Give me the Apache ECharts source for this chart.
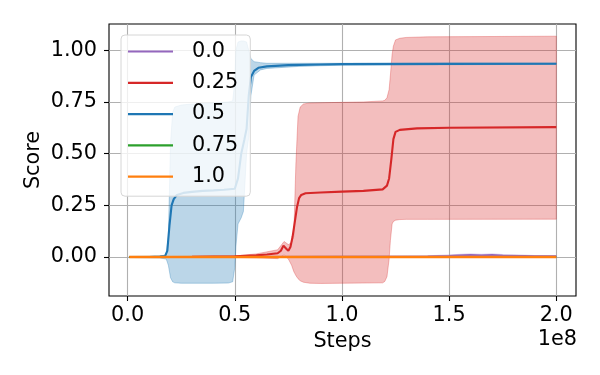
<!DOCTYPE html>
<html>
<head>
<meta charset="utf-8">
<script src="https://cdn.jsdelivr.net/npm/echarts@6/dist/echarts.min.js"></script>
<style>html,body{margin:0;padding:0;background:#fff}#c{width:600px;height:375px}</style>
</head>
<body>
<div id="c"></div>
<script>
// ---- data (x in units of 1e8 steps) ----
const seriesNames = ['0.0', '0.25', '0.5', '0.75', '1.0'];
const xTicks = [0.0, 0.5, 1.0, 1.5, 2.0];
const yTicks = [0.0, 0.25, 0.5, 0.75, 1.0];

// 0.0 (purple)
const x00 = [0.0075, 0.5, 1.0, 1.4, 1.5, 1.55, 1.6, 1.65, 1.7, 1.75, 1.8, 1.85, 1.9, 2.0];
const y00 = [0, 0, 0.001, 0.002, 0.004, 0.007, 0.009, 0.007, 0.009, 0.006, 0.005, 0.004, 0.003, 0.003];
const lo00 = [-0.002, -0.002, -0.002, -0.002, -0.002, 0.0, 0.002, 0.0, 0.002, 0.0, 0.0, -0.001, -0.002, -0.002];
const hi00 = [0.002, 0.002, 0.004, 0.006, 0.01, 0.013, 0.015, 0.013, 0.015, 0.012, 0.011, 0.009, 0.007, 0.006];

// 0.25 (red)
const x025 = [0.0075, 0.3, 0.5, 0.6, 0.65, 0.7, 0.715, 0.727, 0.74, 0.75, 0.76, 0.77, 0.78, 0.79, 0.8, 0.81, 0.83, 0.9, 1.0, 1.1, 1.19, 1.21, 1.22, 1.23, 1.24, 1.25, 1.27, 1.35, 1.5, 2.0];
const y025 = [0, 0.001, 0.003, 0.008, 0.012, 0.018, 0.03, 0.055, 0.04, 0.03, 0.05, 0.1, 0.17, 0.24, 0.285, 0.3, 0.308, 0.312, 0.316, 0.32, 0.327, 0.345, 0.38, 0.47, 0.57, 0.605, 0.615, 0.622, 0.625, 0.628];
const bx025 = [0.0075, 0.5, 0.6, 0.7, 0.73, 0.75, 0.765, 0.775, 0.785, 0.795, 0.805, 0.82, 0.85, 0.9, 1.0, 1.1, 1.19, 1.2, 1.21, 1.22, 1.226, 1.234, 1.24, 1.25, 1.27, 1.3, 1.4, 2.0];
const hi025 = [0.001, 0.005, 0.015, 0.035, 0.075, 0.06, 0.07, 0.1, 0.45, 0.68, 0.725, 0.74, 0.745, 0.746, 0.748, 0.75, 0.755, 0.758, 0.77, 0.81, 0.88, 0.98, 1.02, 1.05, 1.058, 1.062, 1.065, 1.068];
const lo025 = [-0.001, -0.002, -0.004, -0.008, 0.01, -0.01, -0.04, -0.07, -0.09, -0.105, -0.115, -0.122, -0.127, -0.128, -0.127, -0.126, -0.125, -0.118, -0.095, -0.01, 0.08, 0.16, 0.172, 0.178, 0.181, 0.182, 0.182, 0.183];

// 0.5 (blue)
const x05 = [0.0075, 0.05, 0.1, 0.15, 0.175, 0.185, 0.195, 0.205, 0.215, 0.23, 0.26, 0.3, 0.35, 0.4, 0.45, 0.5, 0.515, 0.53, 0.545, 0.555, 0.565, 0.575, 0.59, 0.61, 0.65, 0.75, 0.9, 1.0, 1.5, 2.0];
const y05 = [0, 0, 0, 0.002, 0.005, 0.03, 0.15, 0.25, 0.28, 0.3, 0.31, 0.315, 0.32, 0.322, 0.325, 0.33, 0.38, 0.5, 0.57, 0.62, 0.78, 0.87, 0.9, 0.915, 0.922, 0.928, 0.931, 0.933, 0.934, 0.935];
const bx05 = [0.0075, 0.15, 0.18, 0.19, 0.2, 0.21, 0.22, 0.25, 0.3, 0.4, 0.47, 0.49, 0.5, 0.505, 0.515, 0.53, 0.54, 0.555, 0.565, 0.575, 0.59, 0.62, 0.65, 0.8, 1.0, 1.5, 2.0];
const hi05 = [0.003, 0.005, 0.01, 0.1, 0.55, 0.7, 0.725, 0.735, 0.74, 0.745, 0.75, 0.755, 0.85, 1.0, 1.04, 1.045, 1.045, 1.04, 1.0, 0.96, 0.945, 0.94, 0.937, 0.937, 0.937, 0.938, 0.938];
const lo05 = [-0.003, -0.005, -0.01, -0.04, -0.1, -0.12, -0.125, -0.127, -0.127, -0.127, -0.126, -0.12, -0.05, 0.05, 0.16, 0.19, 0.22, 0.5, 0.58, 0.78, 0.88, 0.905, 0.912, 0.922, 0.928, 0.93, 0.932];

// 0.75 (green) and 1.0 (orange): flat at zero
const x075 = [0.0075, 0.5, 1.0, 1.5, 2.0];
const y075 = [0, 0, 0, 0, 0];
const x10 = [0.0075, 0.5, 1.0, 1.5, 2.0];
const y10 = [0, 0, 0, 0, 0];

const colors = ['#9467bd', '#d62728', '#1f77b4', '#2ca02c', '#ff7f0e'];
const bandFill = ['rgba(148,103,189,0.3)', 'rgba(214,39,40,0.3)', 'rgba(31,119,180,0.3)'];

const FONT = 'DejaVu Sans';
const FS = 20.8;

function zip(xs, ys) { return xs.map((x, i) => [x, ys[i]]); }
function lineSeries(name, xs, ys, color, w) {
  return {
    type: 'line', name: name, data: zip(xs, ys), showSymbol: false, symbol: 'none',
    lineStyle: { width: w || 2.1, color: color }, itemStyle: { color: color },
    animation: false, silent: true, clip: true
  };
}
function bandSeries(name, xs, lo, hi, fill) {
  return {
    type: 'custom', name: name, silent: true, animation: false, clip: true,
    data: [[xs[0], hi[0]]],
    renderItem: function (params, api) {
      const pts = [];
      for (let i = 0; i < xs.length; i++) pts.push(api.coord([xs[i], hi[i]]));
      for (let i = xs.length - 1; i >= 0; i--) pts.push(api.coord([xs[i], lo[i]]));
      return { type: 'polygon', shape: { points: pts }, style: { fill: fill, stroke: fill, lineWidth: 1 } };
    }
  };
}

const chart = echarts.init(document.getElementById('c'), null, { renderer: 'canvas' });
chart.setOption({
  animation: false,
  backgroundColor: '#fff',
  grid: { left: 109, right: 24, top: 24, bottom: 79, show: true, borderColor: '#000', borderWidth: 1.1, backgroundColor: 'transparent' },
  xAxis: {
    type: 'value', min: -0.087, max: 2.092,
    name: 'Steps', nameLocation: 'middle', nameGap: 35, nameMoveOverlap: false,
    nameTextStyle: { fontFamily: FONT, fontSize: FS, color: '#000' },
    axisLine: { show: false, onZero: false },
    axisTick: { show: true, length: 5, inside: false, lineStyle: { color: '#000', width: 1.1 }, customValues: xTicks },
    axisLabel: { fontFamily: FONT, fontSize: FS, color: '#000', margin: 9, customValues: xTicks, formatter: v => v.toFixed(1) },
    splitLine: { show: true, lineStyle: { color: '#b0b0b0', width: 1.1 } }
  },
  yAxis: {
    type: 'value', min: -0.1887, max: 1.127,
    name: 'Score', nameLocation: 'middle', nameGap: 65, nameRotate: 90, nameMoveOverlap: false,
    nameTextStyle: { fontFamily: FONT, fontSize: FS, color: '#000' },
    axisLine: { show: false, onZero: false },
    axisTick: { show: true, length: 5, inside: false, lineStyle: { color: '#000', width: 1.1 }, customValues: yTicks },
    axisLabel: { fontFamily: FONT, fontSize: FS, color: '#000', margin: 12, customValues: yTicks, formatter: v => v.toFixed(2) },
    splitLine: { show: true, lineStyle: { color: '#b0b0b0', width: 1.1 } }
  },
  legend: {
    data: seriesNames, orient: 'vertical', left: 121, top: 35,
    icon: 'rect', itemWidth: 45, itemHeight: 2.2, itemGap: 10.3,
    padding: [6, 12, 9, 7],
    backgroundColor: 'rgba(255,255,255,0.8)', borderColor: '#d6d6d6', borderWidth: 1, borderRadius: 4,
    textStyle: { fontFamily: FONT, fontSize: FS, color: '#000', lineHeight: 21, padding: [0, 0, 0, 14] },
    selectedMode: false, z: 20
  },
  graphic: [{
    type: 'text', right: 23, top: 329, z: 10,
    style: { text: '1e8', font: FS + 'px "' + FONT + '"', fill: '#000' }
  }],
  series: [
    lineSeries(seriesNames[0], x00, y00, colors[0]),
    bandSeries('band0', x00, lo00, hi00, bandFill[0]),
    lineSeries(seriesNames[1], x025, y025, colors[1]),
    bandSeries('band1', bx025, lo025, hi025, bandFill[1]),
    lineSeries(seriesNames[2], x05, y05, colors[2]),
    bandSeries('band2', bx05, lo05, hi05, bandFill[2]),
    lineSeries(seriesNames[3], x075, y075, colors[3]),
    lineSeries(seriesNames[4], x10, y10, colors[4], 2.6)
  ]
});
</script>
</body>
</html>
